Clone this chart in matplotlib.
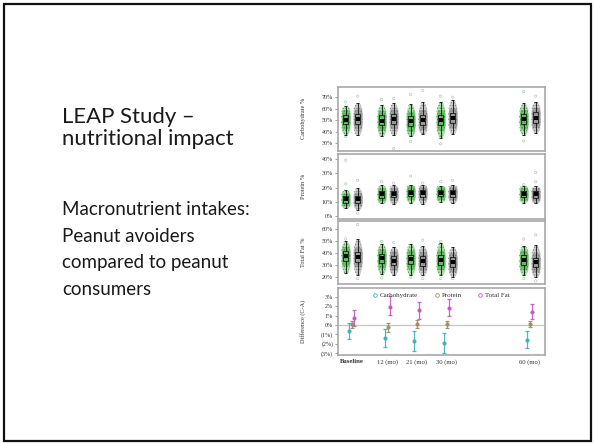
import matplotlib
matplotlib.use('Agg')
import matplotlib.pyplot as plt
from matplotlib.patches import Rectangle
from matplotlib.lines import Line2D
import numpy as np

# ---------------- data ----------------
visits = ['Baseline', '12 (mo)', '21 (mo)', '30 (mo)', '60 (mo)']
visit_pos = [0, 36, 65, 95, 178]   # horizontal placement of the visits on the chart

# Carbohydrate % (green = avoiders, grey = consumers)
carb_g_mean = [50.7, 49.8, 49.0, 50.3, 50.8]
carb_g_q1 = [46.5, 45.6, 44.8, 46.0, 46.6]
carb_g_q3 = [55.0, 54.2, 53.4, 54.8, 55.2]
carb_g_lo = [37.5, 36.0, 36.0, 35.0, 37.0]
carb_g_hi = [62.5, 63.0, 64.0, 66.0, 65.0]
carb_g_out_v = [0, 0, 1, 2, 2, 3, 3, 4, 4]
carb_g_out_y = [66, 36, 68, 72.5, 31.5, 71, 29.5, 75, 32]
carb_k_mean = [51.3, 51.3, 50.6, 52.0, 52.4]
carb_k_q1 = [47.0, 47.0, 46.3, 47.7, 48.0]
carb_k_q3 = [55.6, 55.6, 55.0, 56.4, 56.8]
carb_k_lo = [37.0, 37.0, 38.0, 38.0, 39.0]
carb_k_hi = [65.0, 65.0, 65.5, 68.0, 66.0]
carb_k_out_v = [0, 1, 1, 2, 3, 4]
carb_k_out_y = [71, 25.5, 69, 76, 70, 71]

# Protein %
prot_g_mean = [11.7, 15.3, 16.3, 16.0, 15.6]
prot_g_q1 = [9.5, 13.0, 14.0, 13.8, 13.4]
prot_g_q3 = [14.0, 17.6, 18.6, 18.3, 17.9]
prot_g_lo = [5.5, 9.0, 9.5, 10.0, 9.5]
prot_g_hi = [18.5, 21.5, 22.0, 21.0, 21.0]
prot_g_out_v = [0, 0, 1, 2, 3, 4]
prot_g_out_y = [39, 22.5, 24, 28, 24, 22]
prot_k_mean = [11.8, 15.5, 16.0, 16.0, 15.3]
prot_k_q1 = [9.5, 13.2, 13.7, 13.7, 13.0]
prot_k_q3 = [14.2, 17.8, 18.3, 18.3, 17.6]
prot_k_lo = [4.5, 8.5, 8.5, 9.0, 9.0]
prot_k_hi = [19.5, 21.5, 22.0, 22.0, 21.0]
prot_k_out_v = [0, 0, 1, 2, 3, 4, 4]
prot_k_out_y = [25, 2, 23, 23, 25, 30.5, 24]

# Total Fat %
fat_g_mean = [37.7, 35.8, 35.0, 34.4, 34.3]
fat_g_q1 = [33.7, 31.8, 31.0, 30.4, 30.3]
fat_g_q3 = [41.7, 39.8, 39.0, 38.4, 38.3]
fat_g_lo = [23.5, 22.5, 22.0, 22.0, 22.0]
fat_g_hi = [50.0, 47.5, 48.0, 49.0, 46.5]
fat_g_out_v = [0, 1, 1, 2, 3, 3, 4, 4]
fat_g_out_y = [52, 19.5, 50, 20, 50, 19, 52, 19]
fat_k_mean = [36.9, 34.0, 33.8, 32.6, 32.4]
fat_k_q1 = [32.9, 30.0, 29.8, 28.6, 28.4]
fat_k_q3 = [40.9, 38.0, 37.8, 36.6, 36.4]
fat_k_lo = [22.0, 22.0, 22.0, 20.5, 20.0]
fat_k_hi = [52.0, 45.5, 46.0, 45.0, 47.0]
fat_k_out_v = [0, 0, 1, 2, 2, 3, 4, 4]
fat_k_out_y = [64, 19, 49, 51, 19, 19, 55.5, 17]

# Difference (C-A), %
diff_names = ['Carbohydrate', 'Protein', 'Total Fat']
diff_carb_mean = [-0.66, -1.37, -1.72, -1.87, -1.62]
diff_carb_lo = [-1.47, -2.32, -2.79, -2.96, -2.50]
diff_carb_hi = [0.20, -0.40, -0.66, -0.83, -0.66]
diff_prot_mean = [0.10, -0.23, 0.13, 0.05, 0.13]
diff_prot_lo = [-0.30, -0.70, -0.30, -0.37, -0.23]
diff_prot_hi = [0.45, 0.20, 0.48, 0.37, 0.40]
diff_fat_mean = [0.72, 1.87, 1.55, 1.83, 1.36]
diff_fat_lo = [-0.16, 1.09, 0.59, 0.90, 0.59]
diff_fat_hi = [1.62, 3.04, 2.43, 2.79, 2.19]

# ---------------- style ----------------
GREEN = '#1f9a1f'
GREY = '#6a6a6a'
C_CARB = '#3fb0b0'
C_PROT = '#a08a68'
C_FAT = '#c455c4'
SPINE = '#a8a8a8'
SERIF = ['Liberation Serif', 'DejaVu Serif']
plt.rcParams['hatch.linewidth'] = 0.6

fig = plt.figure(figsize=(5.95, 4.44), dpi=100)
W, H = 595.0, 444.0

# slide border
fig.patches.append(Rectangle((4 / W, 3 / H), (591 - 4) / W, (440 - 3) / H,
                             transform=fig.transFigure, fill=False,
                             lw=1.6, ec='#111111'))

SANS = ['Lato', 'DejaVu Sans']
fig.text(62 / W, 1 - 123 / H, 'LEAP Study –', fontsize=15.9, family=SANS,
         color='#1a1a1a', va='baseline')
fig.text(62 / W, 1 - 145 / H, 'nutritional impact', fontsize=15.9, family=SANS,
         color='#1a1a1a', va='baseline')
for i, line in enumerate(['Macronutrient intakes:', 'Peanut avoiders',
                          'compared to peanut', 'consumers']):
    fig.text(62 / W, 1 - (215 + i * 26.7) / H, line, fontsize=13.5,
             family=SANS, color='#1a1a1a', va='baseline')


def px_axes(top, bottom, left=338.3, right=545.0):
    return fig.add_axes([left / W, 1 - bottom / H, (right - left) / W,
                         (bottom - top) / H])


def style_axes(ax, ylim, yticks, yticklabels, ylabel):
    ax.set_xlim(-13.4, 193.3)
    ax.set_ylim(*ylim)
    ax.set_yticks(yticks)
    ax.set_yticklabels(yticklabels, family=SERIF, fontsize=4.3, color='#333333')
    ax.set_xticks([])
    ax.tick_params(axis='y', length=2.2, width=0.5, color='#777777', pad=1.5)
    for s in ax.spines.values():
        s.set_color(SPINE)
        s.set_linewidth(1.2)
    ax.set_ylabel(ylabel, family=SERIF, fontsize=4.5, color='#333333')
    ax.yaxis.set_label_coords(-0.158, 0.5)


def cloud(ax, x, lo, q1, q3, hi, color):
    iqr = q3 - q1
    ys = [lo, q1 - 0.6 * iqr, q1, q3, q3 + 0.6 * iqr, hi]
    half = [1.8, 4.0, 4.6, 4.6, 4.0, 1.8]
    left = [x - h for h in half]
    right = [x + h for h in half]
    ax.fill_betweenx(ys, left, right, color=color, alpha=0.35, lw=0, zorder=1)
    ax.fill_betweenx(ys, left, right, facecolor='none', hatch='......',
                     edgecolor=color, lw=0, alpha=0.7, zorder=1)
    inner = [q1 - 0.5 * iqr, q1, q3, q3 + 0.5 * iqr]
    ih = [3.2, 4.2, 4.2, 3.2]
    ax.fill_betweenx(inner, [x - h for h in ih], [x + h for h in ih],
                     color=color, alpha=0.45, lw=0, zorder=1)


def draw_group(ax, offset, color, mean, q1, q3, lo, hi, out_v, out_y):
    xs = np.array(visit_pos, dtype=float) + offset
    for x, a, b, c, d in zip(xs, lo, q1, q3, hi):
        cloud(ax, x, a, b, c, d, color)
    lo = np.array(lo); hi = np.array(hi); q1 = np.array(q1); q3 = np.array(q3)
    # box + whiskers
    ax.bar(xs, q3 - q1, bottom=q1, width=5, fill=False, edgecolor='black',
           lw=0.5, zorder=3)
    ax.vlines(xs, lo, q1, color='black', lw=0.55, zorder=3)
    ax.vlines(xs, q3, hi, color='black', lw=0.55, zorder=3)
    ax.hlines(lo, xs - 1.6, xs + 1.6, color='black', lw=0.55, zorder=3)
    ax.hlines(hi, xs - 1.6, xs + 1.6, color='black', lw=0.55, zorder=3)
    ax.scatter(xs, mean, marker='s', s=8, color='black', lw=0, zorder=4)
    ox = [visit_pos[v] + offset for v in out_v]
    ax.scatter(ox, out_y, s=3, facecolor='none', edgecolor=color, lw=0.4,
               alpha=0.5, zorder=2)


# Panel 1
ax1 = px_axes(86.7, 150.7)
draw_group(ax1, -6, GREEN, carb_g_mean, carb_g_q1, carb_g_q3, carb_g_lo, carb_g_hi, carb_g_out_v, carb_g_out_y)
draw_group(ax1, 6, GREY, carb_k_mean, carb_k_q1, carb_k_q3, carb_k_lo, carb_k_hi, carb_k_out_v, carb_k_out_y)
style_axes(ax1, (23.6, 79.2), [30, 40, 50, 60, 70], ['30%', '40%', '50%', '60%', '70%'], 'Carbohydrate %')

# Panel 2
ax2 = px_axes(154.0, 219.0)
draw_group(ax2, -6, GREEN, prot_g_mean, prot_g_q1, prot_g_q3, prot_g_lo, prot_g_hi, prot_g_out_v, prot_g_out_y)
draw_group(ax2, 6, GREY, prot_k_mean, prot_k_q1, prot_k_q3, prot_k_lo, prot_k_hi, prot_k_out_v, prot_k_out_y)
style_axes(ax2, (-1.9, 43.3), [0, 10, 20, 30, 40], ['0%', '10%', '20%', '30%', '40%'], 'Protein %')

# Panel 3
ax3 = px_axes(220.7, 284.3)
draw_group(ax3, -6, GREEN, fat_g_mean, fat_g_q1, fat_g_q3, fat_g_lo, fat_g_hi, fat_g_out_v, fat_g_out_y)
draw_group(ax3, 6, GREY, fat_k_mean, fat_k_q1, fat_k_q3, fat_k_lo, fat_k_hi, fat_k_out_v, fat_k_out_y)
style_axes(ax3, (14.2, 67.2), [20, 30, 40, 50, 60], ['20%', '30%', '40%', '50%', '60%'], 'Total Fat %')

# Panel 4
ax4 = px_axes(288.3, 355.0)
ax4.axhline(0, color='#c8c8c8', lw=1.0, zorder=1)
series = [(diff_carb_mean, diff_carb_lo, diff_carb_hi, C_CARB, -2.6),
          (diff_prot_mean, diff_prot_lo, diff_prot_hi, C_PROT, 0.0),
          (diff_fat_mean, diff_fat_lo, diff_fat_hi, C_FAT, 2.5)]
for name, (m, lo, hi, c, off) in zip(diff_names, series):
    xs = np.array(visit_pos, dtype=float) + off
    m = np.array(m)
    yerr = [m - np.array(lo), np.array(hi) - m]
    ax4.errorbar(xs, m, yerr=yerr, fmt='o', ms=2.0, color=c, ecolor=c,
                 elinewidth=0.9, capsize=1.5, capthick=0.9, alpha=0.9, zorder=3)
style_axes(ax4, (-3.2, 3.9), [-3, -2, -1, 0, 1, 2, 3],
           ['(3%)', '(2%)', '(1%)', '0%', '1%', '2%', '3%'], 'Difference (C-A)')
handles = [Line2D([], [], ls='none', marker='o', ms=2.6, mfc='none', mec=c, mew=0.6)
           for c in (C_CARB, C_PROT, C_FAT)]
ax4.legend(handles, diff_names, loc='upper center', bbox_to_anchor=(0.495, 1.03),
           ncol=3, frameon=False, prop={'family': SERIF, 'size': 5},
           handletextpad=0.2, columnspacing=2.2, handlelength=1.0,
           labelcolor='#333333')
ax4.set_xticks(visit_pos)
ax4.set_xticklabels(visits, family=SERIF, fontsize=4.8, color='#333333')
ax4.tick_params(axis='x', length=0, pad=3)
ax4.get_xticklabels()[0].set_fontweight('bold')

fig.savefig('out.png', dpi=100)
